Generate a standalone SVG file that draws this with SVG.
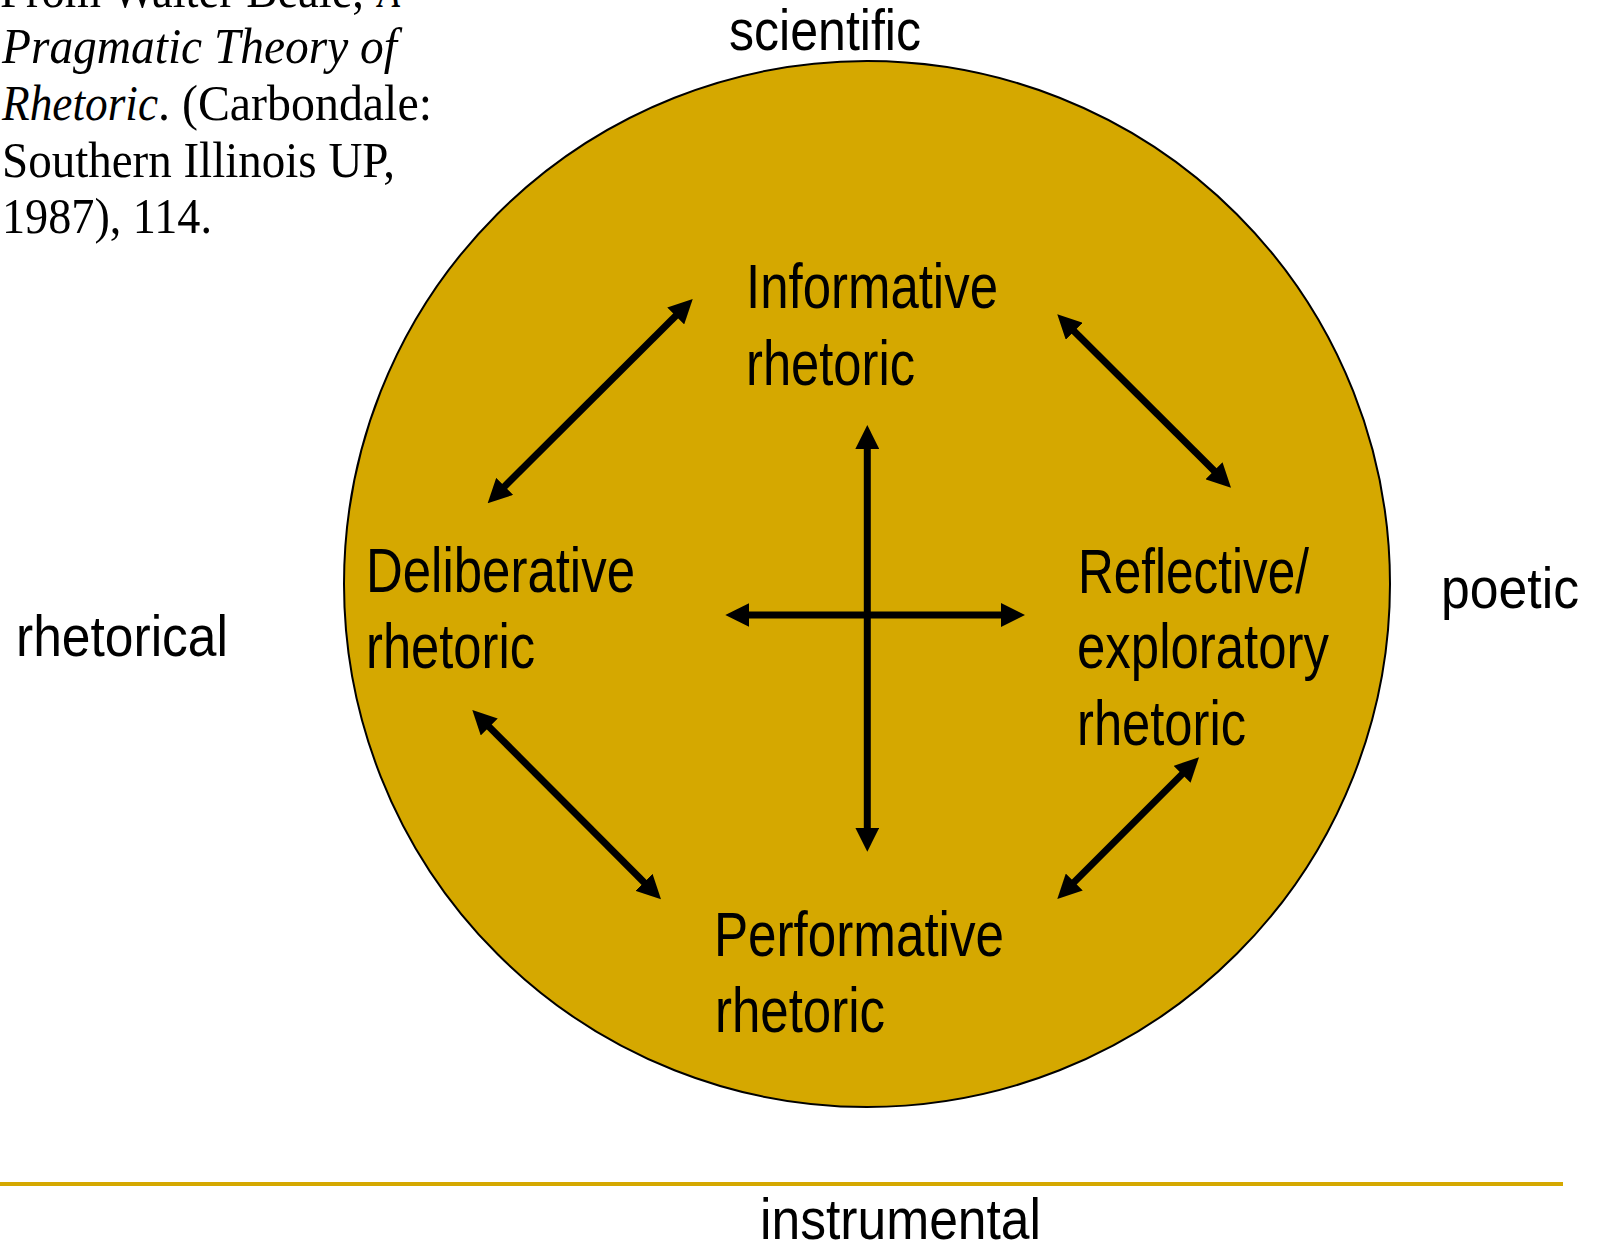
<svg xmlns="http://www.w3.org/2000/svg" width="1599" height="1247" viewBox="0 0 1599 1247">
<style>
.lbl{font-family:"Liberation Sans",Arial,sans-serif;font-size:63px;fill:#000}
.out{font-family:"Liberation Sans",Arial,sans-serif;font-size:57px;fill:#000}
.cit{font-family:"Liberation Serif","Times New Roman",serif;font-size:50px;fill:#000}
.it{font-style:italic}
.arr{stroke:#000;stroke-width:7;fill:none;marker-start:url(#ah);marker-end:url(#ah)}
</style>
<defs>
<marker id="ah" markerUnits="userSpaceOnUse" markerWidth="24" markerHeight="24" refX="9" refY="12" orient="auto-start-reverse" viewBox="0 0 24 24">
<path d="M0,0 L24,12 L0,24 z" fill="#000"/>
</marker>
</defs>
<rect x="0" y="0" width="1599" height="1247" fill="#fff"/>
<g id="citation">
<text class="cit" x="0" y="7" textLength="364" lengthAdjust="spacingAndGlyphs">From Walter Beale,</text>
<text class="cit it" x="378" y="7" textLength="22" lengthAdjust="spacingAndGlyphs">A</text>
<text class="cit it" x="2" y="63" textLength="395" lengthAdjust="spacingAndGlyphs">Pragmatic Theory of</text>
<text class="cit it" x="2" y="120" textLength="156" lengthAdjust="spacingAndGlyphs">Rhetoric</text>
<text class="cit" x="158" y="120" textLength="274" lengthAdjust="spacingAndGlyphs">. (Carbondale:</text>
<text class="cit" x="2" y="177" textLength="393" lengthAdjust="spacingAndGlyphs">Southern Illinois UP,</text>
<text class="cit" x="2" y="233" textLength="210" lengthAdjust="spacingAndGlyphs">1987), 114.</text>
</g>
<g id="circle">
<circle cx="867" cy="584" r="523" fill="#D5A800" stroke="#000" stroke-width="2"/>
</g>
<g id="axis-labels">
<text class="out" x="729" y="50" textLength="192" lengthAdjust="spacingAndGlyphs">scientific</text>
<text class="out" x="16" y="656" textLength="212" lengthAdjust="spacingAndGlyphs">rhetorical</text>
<text class="out" x="1441" y="608" textLength="138" lengthAdjust="spacingAndGlyphs">poetic</text>
<text class="out" x="760" y="1239" textLength="281" lengthAdjust="spacingAndGlyphs">instrumental</text>
</g>
<g id="baseline-rule">
<line x1="0" y1="1184" x2="1563" y2="1184" stroke="#D5A800" stroke-width="4"/>
</g>
<g id="node-informative">
<text class="lbl" x="746" y="308" textLength="252" lengthAdjust="spacingAndGlyphs">Informative</text>
<text class="lbl" x="746" y="385" textLength="169" lengthAdjust="spacingAndGlyphs">rhetoric</text>
</g>
<g id="node-deliberative">
<text class="lbl" x="366" y="592" textLength="269" lengthAdjust="spacingAndGlyphs">Deliberative</text>
<text class="lbl" x="366" y="668" textLength="169" lengthAdjust="spacingAndGlyphs">rhetoric</text>
</g>
<g id="node-reflective">
<text class="lbl" x="1078" y="593" textLength="231" lengthAdjust="spacingAndGlyphs">Reflective/</text>
<text class="lbl" x="1077" y="668" textLength="252" lengthAdjust="spacingAndGlyphs">exploratory</text>
<text class="lbl" x="1077" y="745" textLength="169" lengthAdjust="spacingAndGlyphs">rhetoric</text>
</g>
<g id="node-performative">
<text class="lbl" x="714" y="956" textLength="290" lengthAdjust="spacingAndGlyphs">Performative</text>
<text class="lbl" x="715" y="1032" textLength="170" lengthAdjust="spacingAndGlyphs">rhetoric</text>
</g>
<g id="connectors">
<line class="arr" x1="682.1" y1="309.6" x2="498.3" y2="492.7"/>
<line class="arr" x1="1067.9" y1="324.9" x2="1220.4" y2="477.1"/>
<line class="arr" x1="482.9" y1="720.6" x2="650.4" y2="888.7"/>
<line class="arr" x1="1188.4" y1="767.9" x2="1067.9" y2="888.4"/>
<line class="arr" x1="867.3" y1="440" x2="867.3" y2="836.7"/>
<line class="arr" x1="740.3" y1="615" x2="1010" y2="615"/>
</g>
</svg>
